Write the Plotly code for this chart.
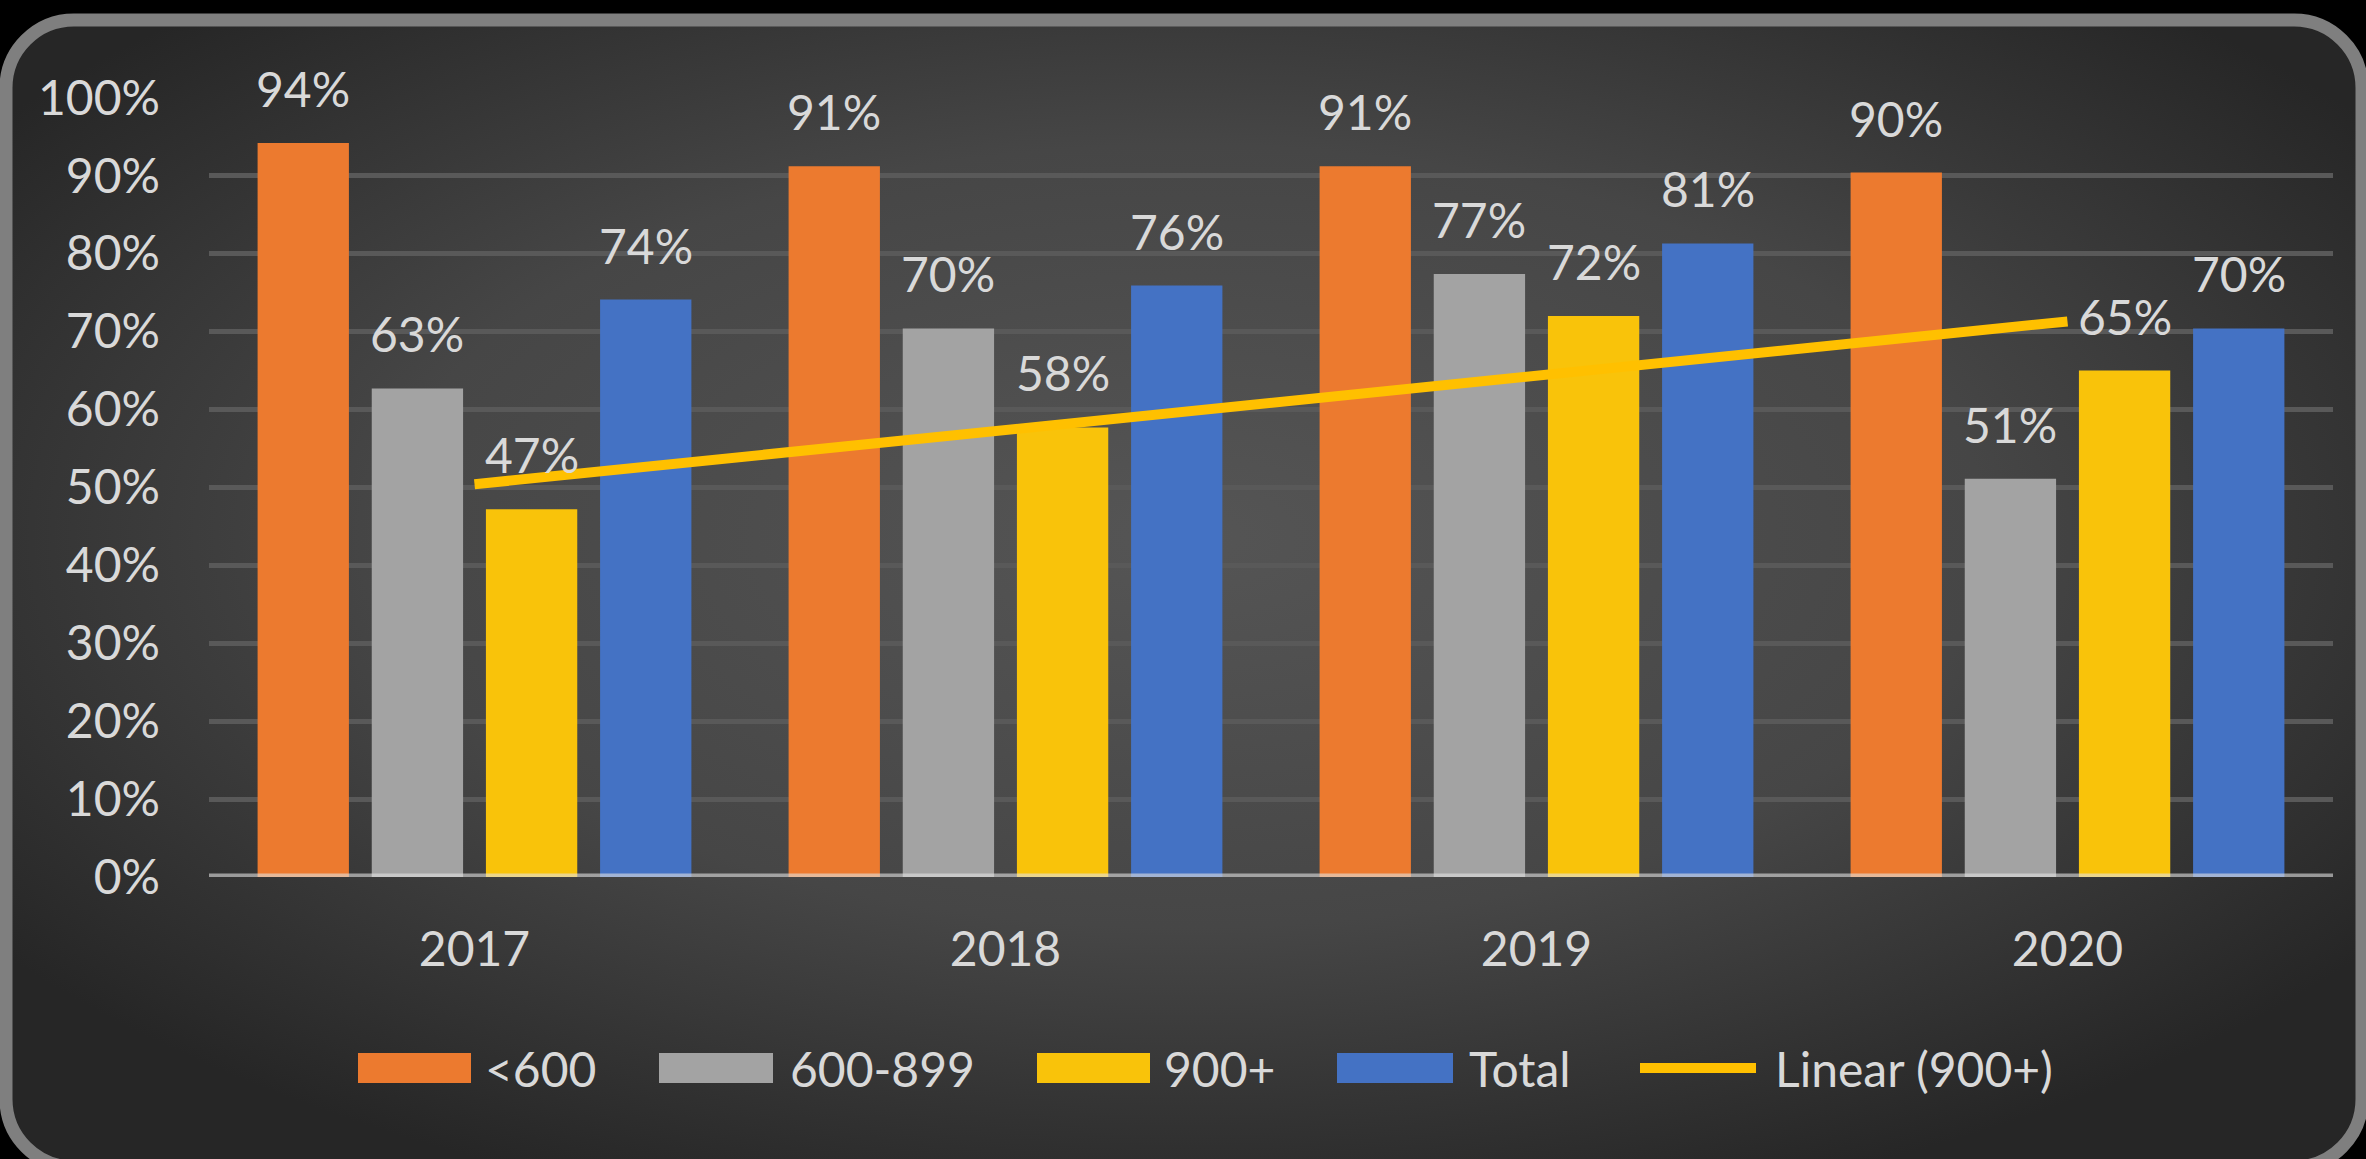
import base64
import plotly.graph_objects as go

# ---------------- data ----------------
years = ["2017", "2018", "2019", "2020"]
series_names = ["<600", "600-899", "900+", "Total"]
vals_lt600 = [0.942, 0.912, 0.912, 0.904]
vals_600_899 = [0.627, 0.704, 0.774, 0.511]
vals_900plus = [0.472, 0.577, 0.720, 0.650]
vals_total = [0.741, 0.759, 0.813, 0.704]
trend_name = "Linear (900+)"
trend_years = ["2017", "2020"]
trend_vals = [0.504, 0.713]
y_tick_vals = [0.0, 0.1, 0.2, 0.3, 0.4, 0.5, 0.6, 0.7, 0.8, 0.9, 1.0]

# ---------------- style ----------------
W, H = 2366, 1159
ML, MR, MT, MB = 209, 33, 97, 282
PW, PH = W - ML - MR, H - MT - MB
FONT = "Lato, 'Open Sans', sans-serif"
FS = 48
TXT = "#d9d9d9"
colors = ["#EC7A2F", "#A3A3A3", "#F9C30A", "#4472C4"]
TREND_COLOR = "#FFC000"
BARGAP = 0.14
BARGROUPGAP = 0.20

series_vals = [vals_lt600, vals_600_899, vals_900plus, vals_total]

fig = go.Figure()
for name, vals, col in zip(series_names, series_vals, colors):
    fig.add_trace(go.Bar(x=years, y=vals, name=name, marker=dict(color=col, line=dict(width=0)),
                         showlegend=False))

fig.add_trace(go.Scatter(x=trend_years, y=trend_vals, name=trend_name, mode="lines",
                         line=dict(color=TREND_COLOR, width=10), showlegend=False))

# data labels
slot = (1 - BARGAP) / len(series_names)
annotations = []
for k, vals in enumerate(series_vals):
    for i, v in enumerate(vals):
        annotations.append(dict(
            x=i + (k - (len(series_names) - 1) / 2) * slot, y=v, xref="x", yref="y",
            text=f"{v:.0%}", showarrow=False, yanchor="bottom", yshift=24,
            font=dict(family=FONT, size=FS, color=TXT)))

def px2x(px):
    return (px - ML) / PW

def px2y(py):
    return (H - MB - py) / PH

# custom legend
shapes = []
legend_items = [
    ("bar", 358, 471, 483),
    ("bar", 659, 773, 788),
    ("bar", 1037, 1150, 1162),
    ("bar", 1337, 1453, 1467),
    ("line", 1640, 1756, 1773),
]
legend_labels = series_names + [trend_name]
legend_colors = colors + [TREND_COLOR]
LEG_Y = 1068
for (kind, x0, x1, tx), lab, col in zip(legend_items, legend_labels, legend_colors):
    if kind == "bar":
        shapes.append(dict(type="rect", xref="paper", yref="paper",
                           x0=px2x(x0), x1=px2x(x1), y0=px2y(LEG_Y + 15), y1=px2y(LEG_Y - 15),
                           fillcolor=col, line=dict(width=0)))
    else:
        shapes.append(dict(type="line", xref="paper", yref="paper",
                           x0=px2x(x0), x1=px2x(x1), y0=px2y(LEG_Y), y1=px2y(LEG_Y),
                           line=dict(color=col, width=10)))
    annotations.append(dict(x=px2x(tx), y=px2y(LEG_Y), xref="paper", yref="paper",
                            text=lab, showarrow=False, xanchor="left", yanchor="middle",
                            font=dict(family=FONT, size=FS, color=TXT)))

# zero / category axis line
shapes.append(dict(type="line", xref="paper", yref="y", x0=0, x1=1, y0=0, y1=0,
                   line=dict(color="rgba(225,225,225,0.6)", width=7), layer="above"))

# background: rounded frame with radial gradient
svg = f'''<svg xmlns="http://www.w3.org/2000/svg" width="{W}" height="{H}" viewBox="0 0 {W} {H}" preserveAspectRatio="none">
<defs><radialGradient id="g" cx="50%" cy="45%" r="62%">
<stop offset="0%" stop-color="#555555"/><stop offset="55%" stop-color="#464646"/><stop offset="100%" stop-color="#262626"/>
</radialGradient></defs>
<rect x="0" y="0" width="{W}" height="{H}" fill="#000000"/>
<rect x="6" y="20" width="{W - 10}" height="{H - 12}" rx="68" ry="68" fill="url(#g)" stroke="#7f7f7f" stroke-width="13"/>
</svg>'''
src = "data:image/svg+xml;base64," + base64.b64encode(svg.encode()).decode()

fig.update_layout(
    width=W, height=H,
    margin=dict(l=ML, r=MR, t=MT, b=MB, pad=0),
    paper_bgcolor="#000000", plot_bgcolor="rgba(0,0,0,0)",
    barmode="group", bargap=BARGAP, bargroupgap=BARGROUPGAP,
    font=dict(family=FONT, size=FS, color=TXT),
    showlegend=False,
    annotations=annotations, shapes=shapes,
    images=[dict(source=src, xref="paper", yref="paper", x=-ML / PW, y=1 + MT / PH,
                 sizex=W / PW, sizey=H / PH, xanchor="left", yanchor="top",
                 sizing="stretch", layer="below")],
    xaxis=dict(type="category", categoryorder="array", categoryarray=years,
               showgrid=False, zeroline=False, showline=False, ticks="",
               tickfont=dict(family=FONT, size=FS, color=TXT), ticklabelstandoff=40),
    yaxis=dict(range=[0, 1.001], tickvals=y_tick_vals, tickformat=".0%",
               showgrid=True, gridcolor="#595959", gridwidth=5, zeroline=False,
               showline=False, ticks="",
               tickfont=dict(family=FONT, size=FS, color=TXT), ticklabelstandoff=48),
)

fig.write_html("out.html", config={"displayModeBar": False},
               post_script="document.body.style.margin='0';document.body.style.overflow='hidden';")
